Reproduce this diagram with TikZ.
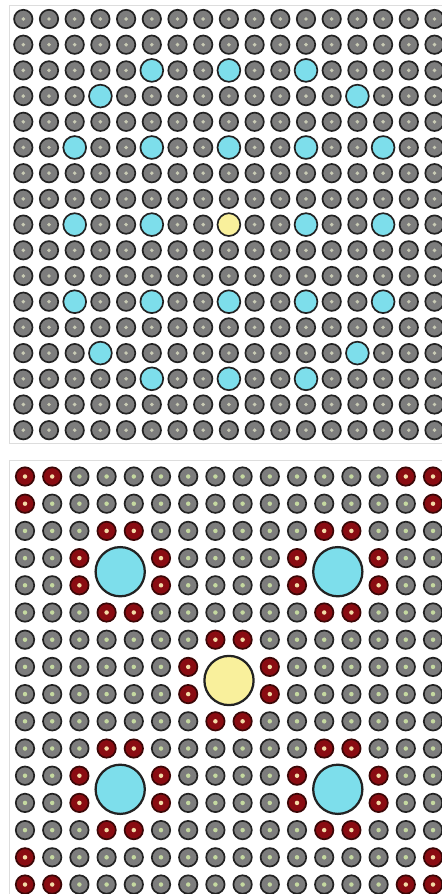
\documentclass[tikz,border=0pt]{standalone}
\usepackage{xcolor}
\usepackage{tikz}
\usetikzlibrary{positioning}

\definecolor{atomgray}{HTML}{7D7D7D}
\definecolor{atomrim}{HTML}{222222}
\definecolor{topdot}{HTML}{C9CBB5}
\definecolor{botdot}{HTML}{C5D9A0}
\definecolor{dopantred}{HTML}{8A0C12}
\definecolor{dopantrim}{HTML}{3A0606}
\definecolor{dopantdot}{HTML}{F3DBA6}
\definecolor{vaccyan}{HTML}{7DDEEB}
\definecolor{vacyellow}{HTML}{F9F09C}
\definecolor{panelframe}{HTML}{DDDDDD}

\tikzset{
  atom/.style={circle, draw=atomrim, fill=atomgray, line width=1.2pt, inner sep=0pt, minimum size=0.46cm},
  topsite/.style={atom, path picture={\fill[topdot] (path picture bounding box.center) circle (1.4pt);}},
  botsite/.style={atom, path picture={\fill[botdot] (path picture bounding box.center) circle (1.6pt);}},
  redsite/.style={atom, draw=dopantrim, fill=dopantred, path picture={\fill[dopantdot] (path picture bounding box.center) circle (1.6pt);}},
  cyansite/.style={atom, fill=vaccyan, minimum size=0.57cm},
  yellowsite/.style={atom, fill=vacyellow, minimum size=0.57cm},
  bigcyan/.style={atom, fill=vaccyan, line width=1.6pt, minimum size=1.23cm},
  bigyellow/.style={bigcyan, fill=vacyellow},
}

\begin{document}
\begin{tikzpicture}[x=0.025cm, y=-0.025cm]
  \useasboundingbox (0,0) rectangle (441,894);

  % panel frames
  \draw[panelframe, line width=0.6pt] (9,5) rectangle (448,443);
  \draw[panelframe, line width=0.6pt] (9,460) rectangle (448,900);

  % top panel: vacancy sites
  \def\vactop{5/2,8/2,11/2,3/3,13/3,2/5,5/5,8/5,11/5,14/5,2/8,5/8,11/8,14/8,2/11,5/11,8/11,11/11,14/11,3/13,13/13,5/14,8/14,11/14}
  \foreach \i/\j in \vactop {\expandafter\gdef\csname skip-t-\i-\j\endcsname{}}
  \expandafter\gdef\csname skip-t-8-8\endcsname{}

  % top panel: host lattice
  \foreach \i in {0,...,16}
    \foreach \j in {0,...,16} {
      \ifcsname skip-t-\i-\j\endcsname\else
        \node[topsite] (t-\i-\j) at ({23.3+25.7*\i},{19+25.7*\j}) {};
      \fi
    }
  \foreach \i/\j in \vactop
    \node[cyansite] (t-\i-\j) at ({23.3+25.7*\i},{19+25.7*\j}) {};
  \node[yellowsite] (t-8-8) at ({23.3+25.7*8},{19+25.7*8}) {};

  % bottom panel: big sites and their red neighbours
  \foreach \a/\b in {3/3,11/3,7/7,3/11,11/11} {
    \foreach \p/\q in {0/0,1/0,0/1,1/1} {
      \pgfmathtruncatemacro\u{\a+\p}\pgfmathtruncatemacro\v{\b+\q}
      \expandafter\gdef\csname skip-b-\u-\v\endcsname{}
    }
    \foreach \p/\q in {0/-1,1/-1,-1/0,-1/1,2/0,2/1,0/2,1/2} {
      \pgfmathtruncatemacro\u{\a+\p}\pgfmathtruncatemacro\v{\b+\q}
      \expandafter\gdef\csname red-b-\u-\v\endcsname{}
    }
  }
  \foreach \u/\v in {0/0,1/0,0/1,14/0,15/0,15/1,0/14,0/15,1/15,15/14,14/15,15/15}
    {\expandafter\gdef\csname red-b-\u-\v\endcsname{}}

  % bottom panel: host lattice
  \foreach \i in {0,...,15}
    \foreach \j in {0,...,15} {
      \ifcsname skip-b-\i-\j\endcsname\else
        \def\kind{botsite}
        \ifcsname red-b-\i-\j\endcsname\def\kind{redsite}\fi
        \node[\kind] (b-\i-\j) at ({25+27.2*\i},{476.5+27.2*\j}) {};
      \fi
    }
  \foreach \a/\b/\c in {3/3/bigcyan,11/3/bigcyan,7/7/bigyellow,3/11/bigcyan,11/11/bigcyan}
    \node[\c] (big-\a-\b) at ({25+27.2*(\a+0.5)},{476.5+27.2*(\b+0.5)}) {};
\end{tikzpicture}
\end{document}
